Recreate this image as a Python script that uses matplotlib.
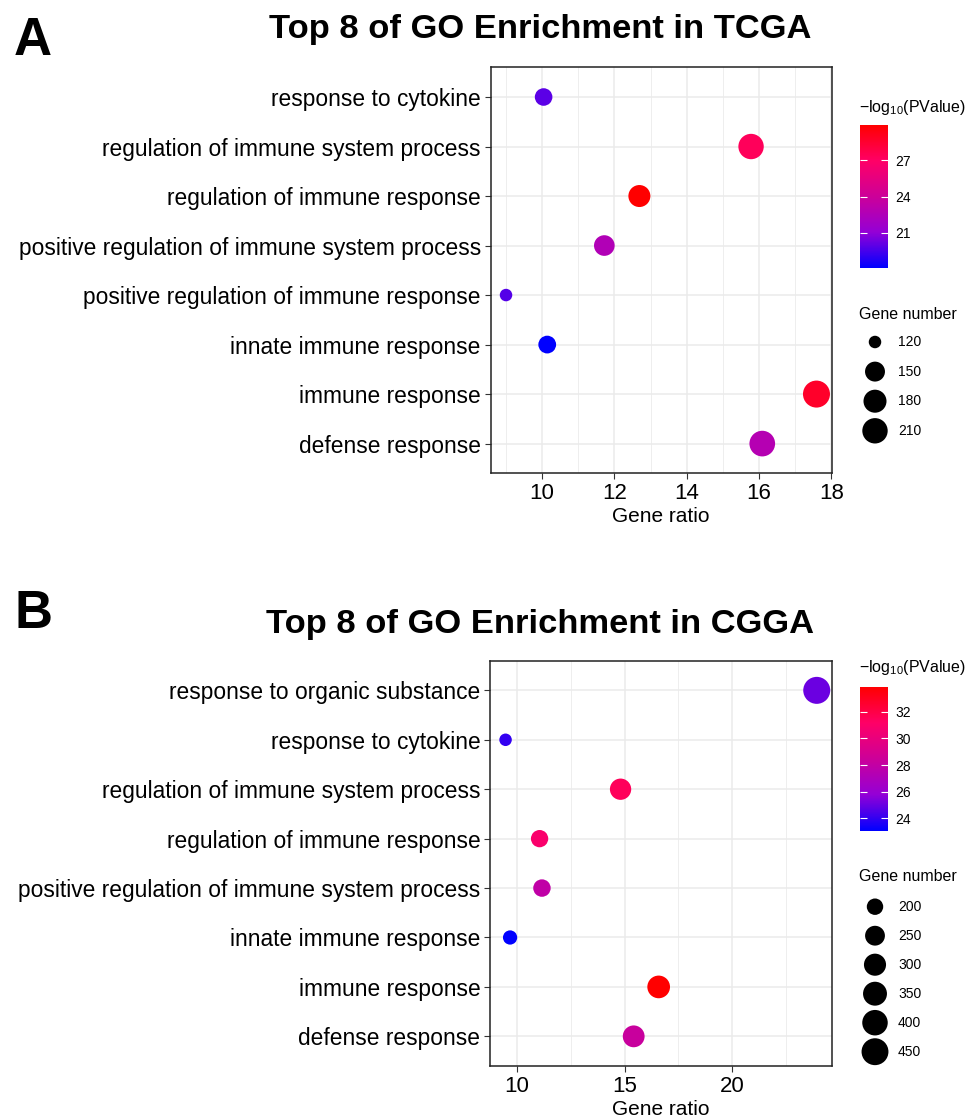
import numpy as np
import matplotlib
matplotlib.use("Agg")
import matplotlib.pyplot as plt
from matplotlib.colors import LinearSegmentedColormap, Normalize
from matplotlib.cm import ScalarMappable
from matplotlib.ticker import MultipleLocator

plt.rcParams['font.family'] = ['Liberation Sans', 'DejaVu Sans']
plt.rcParams['mathtext.fontset'] = 'custom'
plt.rcParams['mathtext.rm'] = 'Liberation Sans'
plt.rcParams['mathtext.it'] = 'Liberation Sans:italic'

# panel A (TCGA), listed from top to bottom
tcga_terms = ["response to cytokine", "regulation of immune system process",
              "regulation of immune response", "positive regulation of immune system process",
              "positive regulation of immune response", "innate immune response",
              "immune response", "defense response"]
tcga_ratio = [10.04, 15.78, 12.69, 11.72, 9.00, 10.14, 17.59, 16.09]
tcga_count = [134, 210, 169, 156, 120, 135, 234, 214]
tcga_logp = [19.9, 27.3, 29.9, 22.6, 19.8, 18.1, 28.7, 22.8]
tcga_cbar_ticks = [21, 24, 27]
tcga_size_breaks = [120, 150, 180, 210]

# panel B (CGGA)
cgga_terms = ["response to organic substance", "response to cytokine",
              "regulation of immune system process", "regulation of immune response",
              "positive regulation of immune system process", "innate immune response",
              "immune response", "defense response"]
cgga_ratio = [23.92, 9.47, 14.81, 11.05, 11.16, 9.68, 16.58, 15.42]
cgga_count = [454, 180, 281, 210, 212, 184, 315, 293]
cgga_logp = [25.0, 24.0, 31.5, 30.9, 27.9, 23.05, 33.9, 28.3]
cgga_cbar_ticks = [24, 26, 28, 30, 32]
cgga_size_breaks = [200, 250, 300, 350, 400, 450]

W, H = 974, 1119

# blue -> red gradient through purple / magenta / pink
cmap = LinearSegmentedColormap.from_list(
    "bluered", [(0.0, "#0000FF"), (0.25, "#9400D6"), (0.5, "#CC0099"),
                (0.75, "#FF0066"), (1.0, "#FF0000")])

DMIN, DMAX = 12.5, 27.0  # point diameters in pixels


def size_px(v, vmin, vmax):
    v = np.asarray(v, float)
    return DMIN + (DMAX - DMIN) * np.sqrt(np.clip((v - vmin) / (vmax - vmin), 0, 1))


def px_rect(l, t, r, b):
    return [l / W, 1 - b / H, (r - l) / W, (b - t) / H]


fig = plt.figure(figsize=(W / 100, H / 100), dpi=100)


def panel(rect, terms, ratio, count, logp, major, minor, title, title_y, letter, letter_y,
          cbar_rect, cbar_ticks, cbar_title_y, legend_rect, breaks, legend_title_y):
    ax = fig.add_axes(px_rect(*rect))
    n = len(terms)
    y = np.arange(n, 0, -1)
    norm = Normalize(min(logp), max(logp))
    d = size_px(count, min(count), max(count))
    ax.scatter(ratio, y, s=(d * 0.72) ** 2, c=logp, cmap=cmap, norm=norm,
               linewidths=0, zorder=3)
    lo, hi = min(ratio), max(ratio)
    pad = 0.05 * (hi - lo)
    ax.set_xlim(lo - pad, hi + pad)
    ax.set_ylim(0.4, n + 0.6)
    ax.set_yticks(y)
    ax.set_yticklabels(terms)
    ax.xaxis.set_major_locator(MultipleLocator(major))
    ax.xaxis.set_minor_locator(MultipleLocator(minor))
    ax.tick_params(which='major', length=4, width=0.8, color='#333333',
                   labelcolor='black', pad=3)
    ax.tick_params(axis='x', labelsize=16)
    ax.tick_params(axis='y', labelsize=16.4)
    ax.tick_params(which='minor', length=0)
    ax.grid(which='major', color='#EBEBEB', lw=1.1, zorder=0)
    ax.grid(which='minor', color='#EBEBEB', lw=0.6, zorder=0)
    ax.set_axisbelow(True)
    for s in ax.spines.values():
        s.set_linewidth(1.1)
        s.set_color('#222222')
    ax.set_xlabel("Gene ratio", fontsize=15, labelpad=2.5)

    fig.text(540 / W, 1 - title_y / H, title, fontsize=24.8, fontweight='bold',
             ha='center', va='baseline')
    fig.text(14 / W, 1 - letter_y / H, letter, fontsize=38, fontweight='bold',
             ha='left', va='baseline')

    # colour bar
    cax = fig.add_axes(px_rect(*cbar_rect))
    sm = ScalarMappable(norm=norm, cmap=cmap)
    cb = fig.colorbar(sm, cax=cax, ticks=cbar_ticks)
    cb.outline.set_visible(False)
    cax.tick_params(direction='in', color='white', labelcolor='black', length=5, width=0.8,
                    left=True, right=True, labelsize=10, pad=5)
    fig.text(859 / W, 1 - cbar_title_y / H, r"$-\mathrm{log}_{10}$(PValue)",
             fontsize=11.5, ha='left', va='baseline')

    # size legend
    lax = fig.add_axes(px_rect(*legend_rect))
    lax.set_axis_off()
    k = len(breaks)
    lax.set_xlim(0, 1)
    lax.set_ylim(k - 0.5, -0.5)
    ld = size_px(breaks, min(count), max(count))
    lax.scatter(np.full(k, 0.15), np.arange(k), s=(ld * 0.72) ** 2, c='black',
                linewidths=0, clip_on=False)
    for i, b in enumerate(breaks):
        lax.text(0.38, i, str(b), fontsize=10, va='center', ha='left')
    fig.text(859 / W, 1 - legend_title_y / H, "Gene number", fontsize=11.5,
             ha='left', va='baseline')


panel((490.5, 67.3, 832, 473.3), tcga_terms, tcga_ratio, tcga_count, tcga_logp, 2, 1,
      "Top 8 of GO Enrichment in TCGA", 38, "A", 55,
      (860, 125, 888, 268), tcga_cbar_ticks, 112,
      (860, 327.2, 960, 445.6), tcga_size_breaks, 319)

panel((490, 660.7, 832.3, 1066), cgga_terms, cgga_ratio, cgga_count, cgga_logp, 5, 2.5,
      "Top 8 of GO Enrichment in CGGA", 633, "B", 628,
      (860, 686.7, 888, 830.7), cgga_cbar_ticks, 672,
      (860, 892.2, 960, 1066.2), cgga_size_breaks, 881)

fig.savefig("out.png", dpi=100)
